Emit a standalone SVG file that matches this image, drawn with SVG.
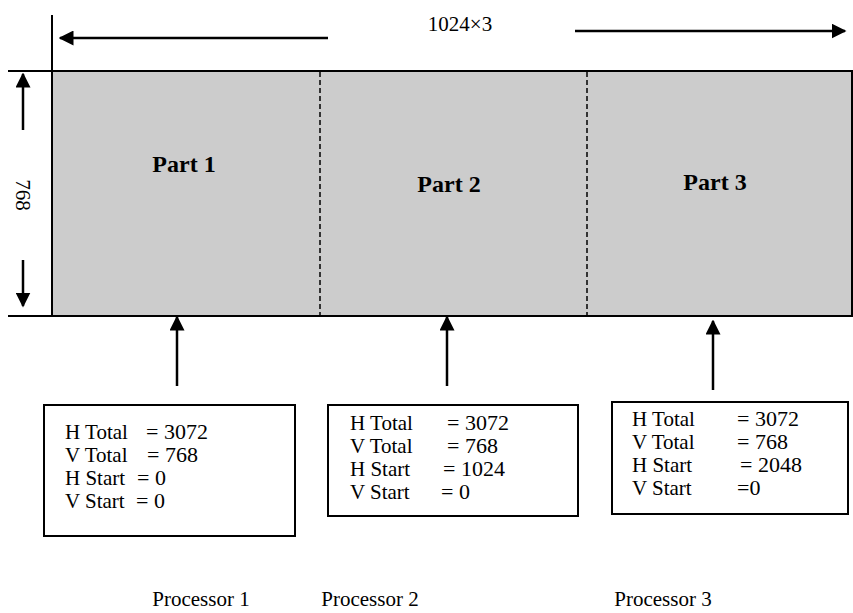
<svg xmlns="http://www.w3.org/2000/svg" width="853" height="613" viewBox="0 0 853 613">
<defs>
<marker id="ah" viewBox="0 0 10 10" refX="9" refY="5" markerWidth="6" markerHeight="6" markerUnits="strokeWidth" orient="auto">
<path d="M0,0 L10,5 L0,10 z" fill="#000"/>
</marker>
<style>
.t{font-family:"Liberation Serif","Times New Roman",serif;font-size:21px;fill:#000}
.v{font-family:"Liberation Serif","Times New Roman",serif;font-size:22px;fill:#000}
.b{font-family:"Liberation Serif","Times New Roman",serif;font-size:24px;font-weight:bold;fill:#000}
.ln{stroke:#000;stroke-width:2;fill:none}
.ar{stroke:#000;stroke-width:2.5;fill:none;marker-end:url(#ah)}
.box{fill:#fff;stroke:#000;stroke-width:2}
</style>
</defs>
<g id="frame">
<rect x="52" y="71" width="800" height="245" fill="#cccccc"/>
<line class="ln" x1="8" y1="71" x2="853" y2="71"/>
<line class="ln" x1="8" y1="316" x2="853" y2="316"/>
<line class="ln" x1="52" y1="15" x2="52" y2="316"/>
<line class="ln" x1="852" y1="71" x2="852" y2="316"/>
<line x1="320" y1="72" x2="320" y2="315" stroke="#000" stroke-width="1.5" stroke-dasharray="5,3"/>
<line x1="587" y1="72" x2="587" y2="315" stroke="#000" stroke-width="1.5" stroke-dasharray="5,3"/>
</g>
<g id="part1"><text class="b" x="184" y="172" text-anchor="middle">Part 1</text></g>
<g id="part2"><text class="b" x="449" y="192" text-anchor="middle">Part 2</text></g>
<g id="part3"><text class="b" x="715" y="190" text-anchor="middle">Part 3</text></g>
<g id="dims">
<text class="t" x="460" y="31" text-anchor="middle" font-size="23">1024×3</text>
<text class="t" x="23" y="195" text-anchor="middle" transform="rotate(90 23 195)" dy="7">768</text>
</g>
<g id="connectors">
<line class="ar" x1="328" y1="38" x2="60" y2="38"/>
<line class="ar" x1="575" y1="31" x2="845" y2="31"/>
<line class="ar" x1="23" y1="130" x2="23" y2="74"/>
<line class="ar" x1="23" y1="260" x2="23" y2="306"/>
<line class="ar" x1="177" y1="386" x2="177" y2="317"/>
<line class="ar" x1="447" y1="386" x2="447" y2="317"/>
<line class="ar" x1="713" y1="390" x2="713" y2="321"/>
</g>
<g id="processor1">
<rect class="box" x="44" y="405" width="251" height="131"/>
<text class="t" x="65" y="439">H Total</text><text class="v" x="146" y="439">= 3072</text>
<text class="t" x="65" y="462">V Total</text><text class="v" x="147" y="462">= 768</text>
<text class="t" x="65" y="485">H Start</text><text class="v" x="137" y="485">= 0</text>
<text class="t" x="65" y="508">V Start</text><text class="v" x="136" y="508">= 0</text>
<text class="t" x="201" y="606" text-anchor="middle">Processor 1</text>
</g>
<g id="processor2">
<rect class="box" x="328" y="405" width="250" height="111"/>
<text class="t" x="350" y="430">H Total</text><text class="v" x="447" y="430">= 3072</text>
<text class="t" x="350" y="453">V Total</text><text class="v" x="447" y="453">= 768</text>
<text class="t" x="350" y="476">H Start</text><text class="v" x="443" y="476">= 1024</text>
<text class="t" x="350" y="499">V Start</text><text class="v" x="441" y="499">= 0</text>
<text class="t" x="370" y="606" text-anchor="middle">Processor 2</text>
</g>
<g id="processor3">
<rect class="box" x="612" y="402" width="236" height="112"/>
<text class="t" x="632" y="426">H Total</text><text class="v" x="737" y="426">= 3072</text>
<text class="t" x="632" y="449">V Total</text><text class="v" x="737" y="449">= 768</text>
<text class="t" x="632" y="472">H Start</text><text class="v" x="740" y="472">= 2048</text>
<text class="t" x="632" y="495">V Start</text><text class="v" x="737" y="495">=0</text>
<text class="t" x="663" y="606" text-anchor="middle">Processor 3</text>
</g>
</svg>
